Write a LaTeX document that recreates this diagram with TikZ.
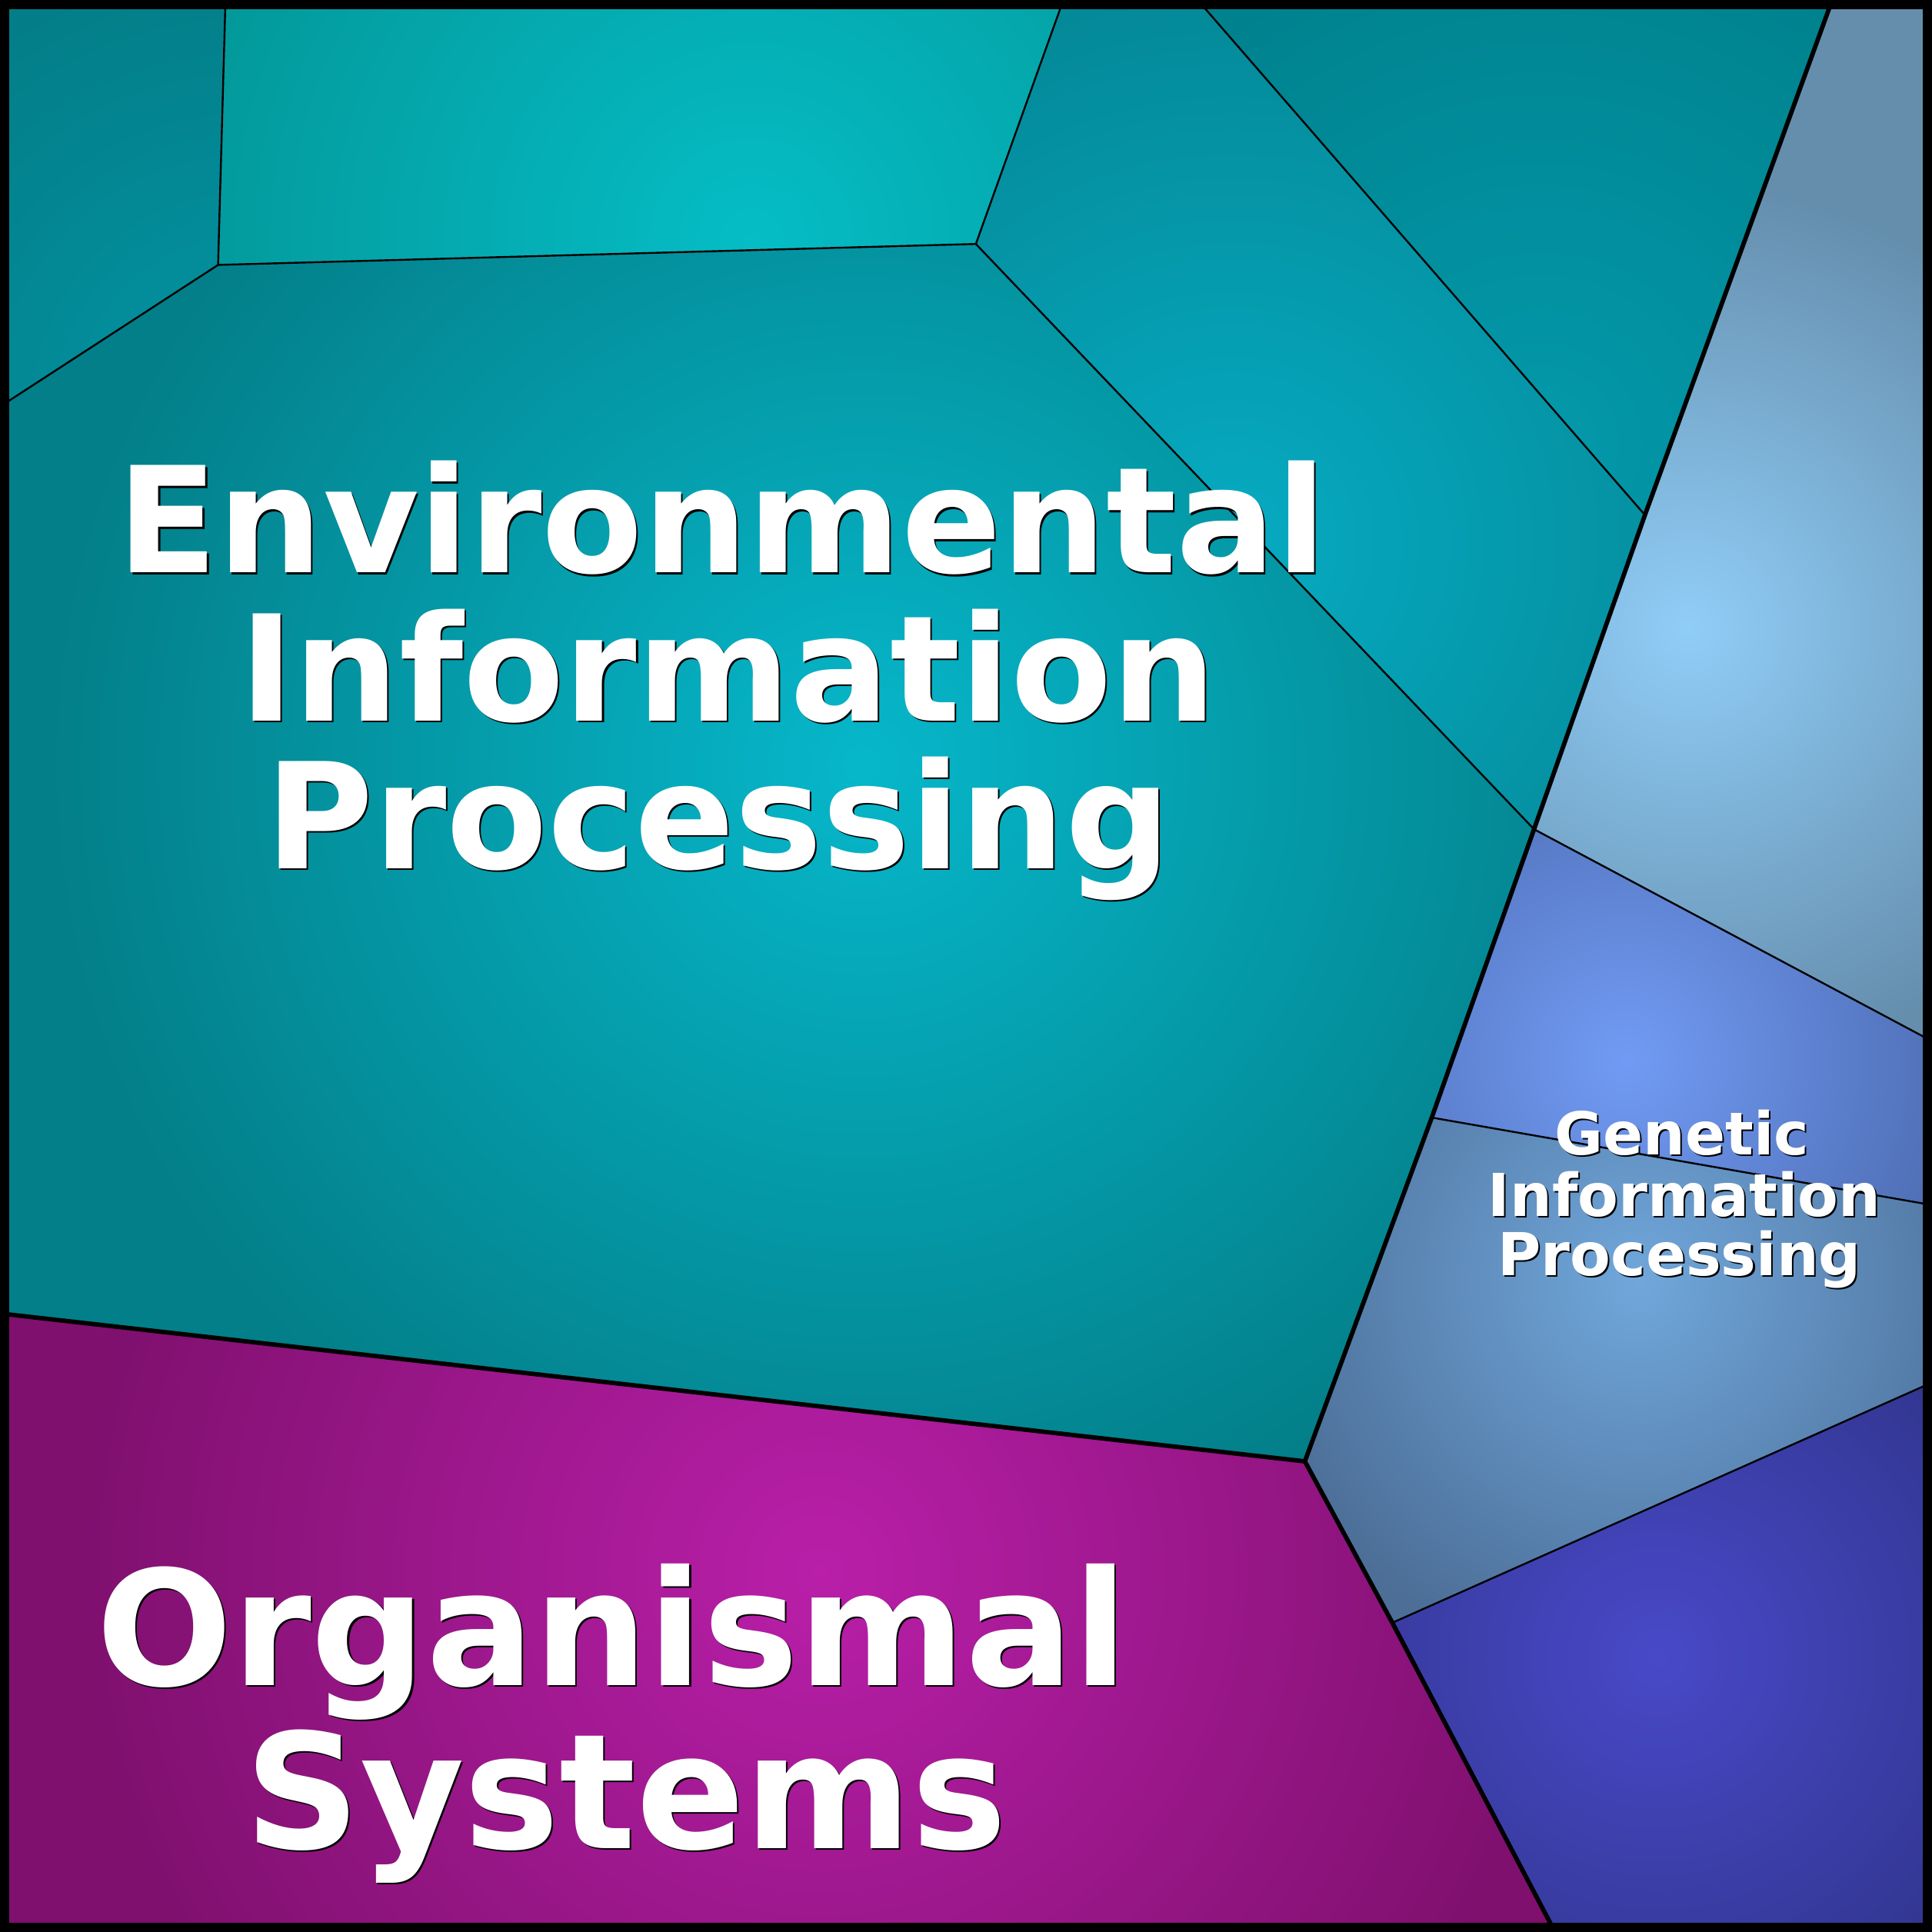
\documentclass[tikz,border=0pt]{standalone}
\usepackage{fontspec}
\setmainfont{DejaVu Sans}
\definecolor{envIn}{HTML}{06B7CA}
\definecolor{envOut}{HTML}{037F89}
\definecolor{tmIn}{HTML}{05BDC6}
\definecolor{tmOut}{HTML}{039697}
\definecolor{tlIn}{HTML}{0394A4}
\definecolor{tlOut}{HTML}{037E88}
\definecolor{rcIn}{HTML}{06ABC2}
\definecolor{rcOut}{HTML}{048897}
\definecolor{trIn}{HTML}{0399AB}
\definecolor{trOut}{HTML}{00828E}
\definecolor{gaIn}{HTML}{90CDF7}
\definecolor{gaOut}{HTML}{658EAD}
\definecolor{gbIn}{HTML}{719BF4}
\definecolor{gbOut}{HTML}{4E6DB3}
\definecolor{gcIn}{HTML}{70A7DB}
\definecolor{gcOut}{HTML}{4C6E97}
\definecolor{gdIn}{HTML}{4849C8}
\definecolor{gdOut}{HTML}{2F3388}
\definecolor{orIn}{HTML}{B91FA9}
\definecolor{orOut}{HTML}{7F106E}
\newcommand\shtxt[1]{\leavevmode\rlap{\kern1.3pt\raisebox{-1.3pt}{\textcolor{black}{#1}}}#1}
\newcommand\vcell[5]{%
  \begin{scope}
    \clip #1;
    \fill[#5] (0,0) rectangle (1568,1568);
    \shade[inner color=#4, outer color=#5] #2 circle (#3);
  \end{scope}}
\tikzset{
  thinedge/.style={draw=black, line width=1.5pt, line join=round},
  thickedge/.style={draw=black, line width=3.6pt, line join=round, line cap=round},
  biglbl/.style={text=white, font=\bfseries\fontsize{119.5pt}{120pt}\selectfont, inner sep=0pt, anchor=base},
  orglbl/.style={text=white, font=\bfseries\fontsize{130pt}{130pt}\selectfont, inner sep=0pt, anchor=base},
  smalllbl/.style={text=white, font=\bfseries\fontsize{48pt}{48pt}\selectfont, inner sep=0pt, anchor=base},
}
\begin{document}
\begin{tikzpicture}[x=1pt,y=-1pt]
\useasboundingbox (0,0) rectangle (1568,1568);
\coordinate (p1) at (183,0);
\coordinate (p2) at (177,215);
\coordinate (p3) at (0,330);
\coordinate (p4) at (863,0);
\coordinate (p5) at (792,198);
\coordinate (p6) at (972,0);
\coordinate (p7) at (1335,418);
\coordinate (p8) at (1245,673);
\coordinate (p9) at (1487,0);
\coordinate (p10) at (1568,845);
\coordinate (p11) at (1162,907);
\coordinate (p12) at (1568,978);
\coordinate (p13) at (1059,1186);
\coordinate (p14) at (1568,1122);
\coordinate (p15) at (1130,1317);
\coordinate (p16) at (1262,1568);
\coordinate (p17) at (0,1066);
% Environmental cells
\vcell{(0,0) -- (p1) -- (p2) -- (p3) -- cycle}{(200,330)}{360pt}{tlIn}{tlOut}
\vcell{(p1) -- (p4) -- (p5) -- (p2) -- cycle}{(610,195)}{500pt}{tmIn}{tmOut}
\vcell{(p3) -- (p2) -- (p5) -- (p8) -- (p13) -- (p17) -- cycle}{(700,620)}{660pt}{envIn}{envOut}
\vcell{(p4) -- (p6) -- (p7) -- (p8) -- (p5) -- cycle}{(1000,440)}{460pt}{rcIn}{rcOut}
\vcell{(p6) -- (p9) -- (p7) -- cycle}{(1250,360)}{420pt}{trIn}{trOut}
% Genetic cells
\vcell{(p9) -- (1568,0) -- (p10) -- (p8) -- (p7) -- cycle}{(1370,510)}{360pt}{gaIn}{gaOut}
\vcell{(p8) -- (p10) -- (p12) -- (p11) -- cycle}{(1320,860)}{280pt}{gbIn}{gbOut}
\vcell{(p11) -- (p12) -- (p14) -- (p15) -- (p13) -- cycle}{(1330,1040)}{320pt}{gcIn}{gcOut}
\vcell{(p15) -- (p14) -- (1568,1568) -- (p16) -- cycle}{(1345,1345)}{360pt}{gdIn}{gdOut}
% Organismal cell
\vcell{(p17) -- (p13) -- (p15) -- (p16) -- (0,1568) -- cycle}{(665,1275)}{600pt}{orIn}{orOut}
% thin edges
\draw[thinedge] (p1) -- (p2) -- (p3);
\draw[thinedge] (p2) -- (p5) -- (p4);
\draw[thinedge] (p5) -- (p8);
\draw[thinedge] (p6) -- (p7);
\draw[thinedge] (p8) -- (p10);
\draw[thinedge] (p11) -- (p12);
\draw[thinedge] (p15) -- (p14);
% thick edges
\draw[thickedge] (p9) -- (p7) -- (p8) -- (p11) -- (p13) -- (p15) -- (p16);
\draw[thickedge] (p17) -- (p13);
% frame
\draw[line width=7.5pt] (3.75,3.75) rectangle (1564.25,1564.25);
% labels
\node[biglbl] (env1) at (586,465) {\shtxt{Environmental}};
\node[biglbl] (env2) at (591,585) {\shtxt{Information}};
\node[biglbl] (env3) at (583,705) {\shtxt{Processing}};
\node[orglbl] (org1) at (497,1368) {\shtxt{Organismal}};
\node[orglbl] (org2) at (508,1500) {\shtxt{Systems}};
\node[smalllbl] (gen1) at (1365,937) {\shtxt{Genetic}};
\node[smalllbl] (gen2) at (1367,987) {\shtxt{Information}};
\node[smalllbl] (gen3) at (1363,1035) {\shtxt{Processing}};
\end{tikzpicture}
\end{document}
